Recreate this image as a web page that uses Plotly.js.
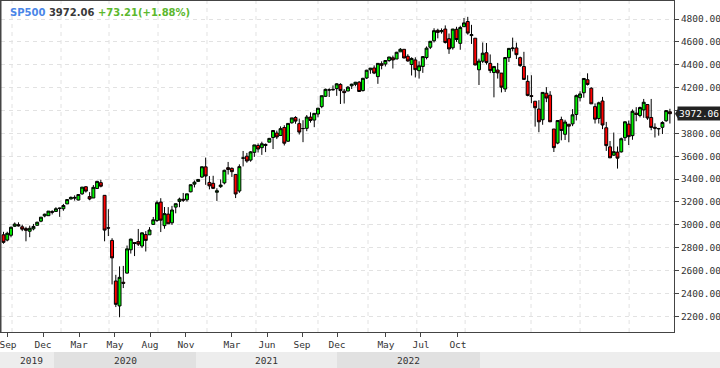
<!DOCTYPE html>
<html>
<head>
<meta charset="utf-8">
<script src="https://cdn.plot.ly/plotly-3.0.1.min.js"></script>
<style>html,body{margin:0;padding:0;background:#fff}#chart{width:720px;height:368px}</style>
</head>
<body>
<div id="chart"></div>
<script>
// Weekly candles (week start dates)
const weeks = [
"2019-08-19","2019-08-26","2019-09-02","2019-09-09","2019-09-16","2019-09-23","2019-09-30","2019-10-07","2019-10-14","2019-10-21","2019-10-28","2019-11-04","2019-11-11","2019-11-18","2019-11-25","2019-12-02","2019-12-09","2019-12-16","2019-12-23","2019-12-30",
"2020-01-06","2020-01-13","2020-01-20","2020-01-27","2020-02-03","2020-02-10","2020-02-17","2020-02-24","2020-03-02","2020-03-09","2020-03-16","2020-03-23","2020-03-30","2020-04-06","2020-04-13","2020-04-20","2020-04-27","2020-05-04","2020-05-11","2020-05-18","2020-05-25","2020-06-01","2020-06-08","2020-06-15","2020-06-22","2020-06-29","2020-07-06","2020-07-13","2020-07-20","2020-07-27","2020-08-03","2020-08-10","2020-08-17","2020-08-24","2020-08-31","2020-09-07","2020-09-14","2020-09-21","2020-09-28","2020-10-05","2020-10-12","2020-10-19","2020-10-26","2020-11-02","2020-11-09","2020-11-16","2020-11-23","2020-11-30","2020-12-07","2020-12-14","2020-12-21","2020-12-28",
"2021-01-04","2021-01-11","2021-01-18","2021-01-25","2021-02-01","2021-02-08","2021-02-15","2021-02-22","2021-03-01","2021-03-08","2021-03-15","2021-03-22","2021-03-29","2021-04-05","2021-04-12","2021-04-19","2021-04-26","2021-05-03","2021-05-10","2021-05-17","2021-05-24","2021-05-31","2021-06-07","2021-06-14","2021-06-21","2021-06-28","2021-07-05","2021-07-12","2021-07-19","2021-07-26","2021-08-02","2021-08-09","2021-08-16","2021-08-23","2021-08-30","2021-09-06","2021-09-13","2021-09-20","2021-09-27","2021-10-04","2021-10-11","2021-10-18","2021-10-25","2021-11-01","2021-11-08","2021-11-15","2021-11-22","2021-11-29","2021-12-06","2021-12-13","2021-12-20","2021-12-27",
"2022-01-03","2022-01-10","2022-01-17","2022-01-24","2022-01-31","2022-02-07","2022-02-14","2022-02-21","2022-02-28","2022-03-07","2022-03-14","2022-03-21","2022-03-28","2022-04-04","2022-04-11","2022-04-18","2022-04-25","2022-05-02","2022-05-09","2022-05-16","2022-05-23","2022-05-30","2022-06-06","2022-06-13","2022-06-20","2022-06-27","2022-07-04","2022-07-11","2022-07-18","2022-07-25","2022-08-01","2022-08-08","2022-08-15","2022-08-22","2022-08-29","2022-09-05","2022-09-12","2022-09-19","2022-09-26","2022-10-03","2022-10-10","2022-10-17","2022-10-24","2022-10-31","2022-11-07","2022-11-14","2022-11-21","2022-11-28","2022-12-05","2022-12-12","2022-12-19","2022-12-26",
"2023-01-02","2023-01-09","2023-01-16"
];
const open = [
2913,2867,2909,2988,3001,2983,2967,2944,2965,2996,3032,3078,3080,3117,3117,3143,3141,3183,3226,3240,
3217,3271,3333,3247,3235,3318,3369,3258,2974,2864,2509,2291,2498,2578,2782,2845,2854,2815,2915,2913,3004,3038,3199,2993,3094,3018,3155,3205,3224,3219,3289,3356,3380,3418,3507,3371,3363,3285,3334,3367,3500,3494,3441,3296,3583,3600,3566,3634,3694,3675,3694,3723,
3764,3803,3781,3851,3731,3892,3939,3885,3842,3844,3942,3916,3969,4034,4124,4179,4185,4191,4228,4169,4170,4216,4229,4248,4174,4284,4356,4372,4296,4409,4406,4437,4461,4450,4513,4535,4474,4402,4442,4348,4385,4463,4553,4610,4701,4689,4712,4628,4548,4710,4587,4733,
4778,4655,4632,4356,4431,4505,4412,4332,4354,4327,4188,4462,4541,4547,4462,4385,4255,4130,4081,4013,3919,4151,4134,3838,3715,3920,3792,3880,3883,3965,4112,4155,4269,4195,4034,3930,4083,3849,3682,3609,3636,3638,3762,3881,3780,3977,3956,4005,4052,3939,3853,3843,
3853,3910,3989
];
const high = [
2939,2940,2985,3021,3022,3002,2983,2993,3008,3027,3067,3098,3120,3128,3154,3150,3183,3226,3248,3258,
3267,3330,3338,3286,3348,3385,3394,3260,3137,2883,2563,2637,2641,2819,2879,2845,2964,2933,2945,2980,3069,3212,3233,3156,3155,3166,3185,3238,3279,3272,3352,3388,3400,3509,3588,3426,3429,3320,3397,3482,3550,3502,3441,3529,3646,3629,3645,3699,3712,3727,3711,3760,
3827,3824,3861,3871,3888,3935,3950,3929,3915,3960,3984,3978,4021,4129,4191,4194,4219,4238,4238,4188,4213,4234,4250,4257,4286,4356,4372,4394,4415,4430,4440,4468,4480,4513,4546,4535,4492,4465,4465,4430,4476,4560,4608,4719,4715,4718,4744,4673,4713,4732,4741,4809,
4819,4749,4632,4453,4595,4590,4490,4385,4416,4327,4465,4546,4637,4593,4471,4513,4308,4308,4081,4090,4158,4204,4169,3838,3913,3946,3919,3880,4012,4140,4168,4280,4325,4203,4062,4077,4119,3900,3733,3807,3685,3763,3905,3912,4009,4029,4034,4101,4052,4101,3888,3847,
3906,4004,4015
];
const low = [
2835,2856,2891,2981,2985,2945,2856,2892,2952,2991,3023,3066,3078,3091,3117,3070,3123,3183,3223,3212,
3214,3263,3282,3215,3235,3315,3328,2856,2902,2479,2281,2192,2447,2574,2749,2727,2815,2797,2767,2913,2999,3025,2937,2966,3007,3000,3101,3154,3200,3204,3284,3327,3379,3410,3350,3310,3313,3209,3323,3354,3440,3419,3234,3280,3511,3543,3552,3594,3633,3612,3636,3723,
3663,3750,3781,3694,3726,3886,3884,3790,3723,3819,3894,3854,3940,4020,4118,4118,4176,4128,4057,4061,4170,4188,4212,4164,4166,4275,4321,4318,4233,4360,4385,4425,4367,4450,4513,4457,4427,4306,4289,4279,4329,4447,4537,4595,4631,4672,4585,4495,4532,4600,4531,4733,
4663,4582,4395,4223,4414,4401,4327,4115,4279,4158,4162,4424,4517,4450,4381,4268,4124,4063,3859,3810,3875,4073,3900,3637,3705,3739,3742,3722,3863,3913,4079,4112,4218,4058,3886,3886,3837,3647,3584,3604,3492,3632,3733,3698,3744,3906,3940,3936,3918,3827,3764,3780,
3794,3901,3886
];
const close = [
2847,2926,2979,3007,2992,2962,2952,2970,2986,3023,3067,3093,3120,3110,3141,3146,3169,3221,3240,3235,
3265,3330,3295,3226,3328,3380,3338,2954,2972,2711,2305,2541,2489,2790,2875,2837,2831,2930,2864,2955,3044,3194,3041,3098,3009,3130,3185,3225,3216,3271,3351,3373,3397,3508,3427,3341,3319,3298,3348,3477,3484,3465,3270,3509,3585,3558,3638,3699,3663,3709,3703,3756,
3825,3768,3841,3714,3887,3935,3907,3811,3842,3943,3913,3975,4020,4129,4185,4180,4181,4233,4174,4156,4204,4230,4247,4166,4281,4352,4370,4327,4412,4395,4437,4468,4442,4509,4535,4459,4433,4455,4357,4391,4471,4545,4605,4698,4683,4698,4595,4538,4712,4621,4726,4766,
4677,4663,4398,4432,4501,4419,4349,4385,4329,4204,4463,4543,4546,4488,4393,4272,4132,4123,4024,3901,4158,4109,3901,3675,3912,3825,3899,3863,3962,4130,4145,4280,4228,4058,3924,4067,3873,3693,3586,3640,3583,3753,3901,3771,3993,3965,4026,4072,3934,3852,3845,3840,
3895,3999,3972.06
];
// Axis labels
const monthLabels = ["Sep","Dec","Mar","May","Aug","Nov","Mar","Jun","Sep","Dec","May","Jul","Oct"];
const yearLabels = ["2019","2020","2021","2022"];
const priceTicks = [2200,2400,2600,2800,3000,3200,3400,3600,3800,4000,4200,4400,4600,4800];
const headerSymbol = "SP500";
const headerPrice = "3972.06";
const headerChange = "+73.21(+1.88%)";

// ---- layout helpers (positions, in candle-index units) ----
const DAY = 864e5;
const t0 = Date.parse(weeks[0] + "T00:00:00Z");
const atIdx = f => new Date(t0 + f * 7 * DAY).toISOString().replace("T", " ").replace("Z", "");
const tickIdx = [1.2, 10.55, 20.17, 29.78, 39.13, 48.74, 61.03, 70.38, 79.73, 89.08, 102.16, 111.51, 121.39];
const gridIdx = [2.27, 15.36, 28.18, 41.27, 54.35, 67.44, 84.0, 97.36, 110.4, 123.3, 140.9, 154.0, 167.1];

const W = 673; // plot width in px
const pf = px => (px - 1) / W; // page x px -> paper fraction
const H = 331; // plot height
const pyf = py => (332 - py) / H;

const last = close[close.length - 1];

const shapes = [];
gridIdx.forEach(f => shapes.push({
  type: "line", xref: "x", yref: "paper", x0: atIdx(f), x1: atIdx(f), y0: 0, y1: 1,
  line: {color: "#e2e2e2", width: 1, dash: "4px,4px"}, layer: "below"
}));
// year band
shapes.push({type: "rect", xref: "paper", yref: "paper", x0: pf(0), x1: pf(720), y0: pyf(352), y1: pyf(368), line: {width: 0}, fillcolor: "#ededed", layer: "below"});
[[54, 196], [337, 480]].forEach(r => shapes.push({type: "rect", xref: "paper", yref: "paper", x0: pf(r[0]), x1: pf(r[1]), y0: pyf(352), y1: pyf(368), line: {width: 0}, fillcolor: "#e1e1e1", layer: "below"}));
// left border emphasis
shapes.push({type: "line", xref: "paper", yref: "paper", x0: pf(0.5), x1: pf(0.5), y0: 0, y1: 1, line: {color: "#444", width: 2}});
// price tag arrow
shapes.push({type: "path", xref: "paper", xsizemode: "pixel", xanchor: 1, yref: "y", ysizemode: "pixel", yanchor: last,
  path: "M1,0 L4,-5 L4,5 Z", fillcolor: "#222", line: {width: 0}});

const annotations = [];
const yearCenters = [31, 125, 266.5, 408.5];
yearLabels.forEach((t, i) => annotations.push({
  text: t, xref: "paper", yref: "paper", x: pf(yearCenters[i]), y: pyf(360), xanchor: "center", yanchor: "middle",
  showarrow: false, font: {family: "DejaVu Sans Mono", size: 9.5, color: "#333"}
}));
annotations.push({
  text: last.toFixed(2), xref: "paper", yref: "y", x: 1, xshift: 3, y: last, xanchor: "left", yanchor: "middle",
  showarrow: false, bgcolor: "#222", borderpad: 1, font: {family: "DejaVu Sans Mono", size: 9.5, color: "#fff"}
});

const trace = {
  type: "candlestick", x: weeks, open: open, high: high, low: low, close: close,
  increasing: {line: {color: "#000", width: 1}, fillcolor: "#00f000"},
  decreasing: {line: {color: "#000", width: 1}, fillcolor: "#ff0000"},
  whiskerwidth: 0, hoverinfo: "skip"
};

const layout = {
  width: 720, height: 368,
  margin: {l: 1, r: 46, t: 1, b: 36, pad: 0},
  paper_bgcolor: "#fff", plot_bgcolor: "#fff",
  showlegend: false,
  boxgap: 0.22, boxgroupgap: 0,
  font: {family: "DejaVu Sans Mono", size: 9.5, color: "#333"},
  title: {
    text: "<b><span style='color:#4a86e8'>" + headerSymbol + "</span> <span style='color:#3a3a3a'>" + headerPrice +
          "</span> <span style='color:#5cb82e'>" + headerChange + "</span></b>",
    xref: "container", yref: "container", x: 10 / 720, xanchor: "left", y: 1 - 12 / 368, yanchor: "middle",
    font: {family: "DejaVu Sans", size: 10}
  },
  xaxis: {
    type: "date", range: [atIdx(-0.668), atIdx(179.09)], rangeslider: {visible: false},
    showgrid: false, zeroline: false, fixedrange: true,
    tickmode: "array", tickvals: tickIdx.map(atIdx), ticktext: monthLabels,
    ticklabeloverflow: "allow",
    ticks: "outside", ticklen: 4, tickcolor: "#444",
    tickfont: {family: "DejaVu Sans Mono", size: 9.5, color: "#333"},
    showline: true, linecolor: "#444", linewidth: 1, mirror: true
  },
  yaxis: {
    side: "right", range: [2063, 4957.4], fixedrange: true,
    tickmode: "array", tickvals: priceTicks,
    ticktext: priceTicks.map(v => Math.abs(v - last) < 60 ? "" : v.toFixed(2)),
    ticks: "outside", ticklen: 4, tickcolor: "#444",
    tickfont: {family: "DejaVu Sans Mono", size: 9.5, color: "#333"},
    showgrid: true, gridcolor: "#e2e2e2", griddash: "4px,4px", zeroline: false,
    showline: true, linecolor: "#444", linewidth: 1, mirror: true
  },
  shapes: shapes,
  annotations: annotations
};

Plotly.newPlot("chart", [trace], layout, {staticPlot: true, displayModeBar: false});
</script>
</body>
</html>
